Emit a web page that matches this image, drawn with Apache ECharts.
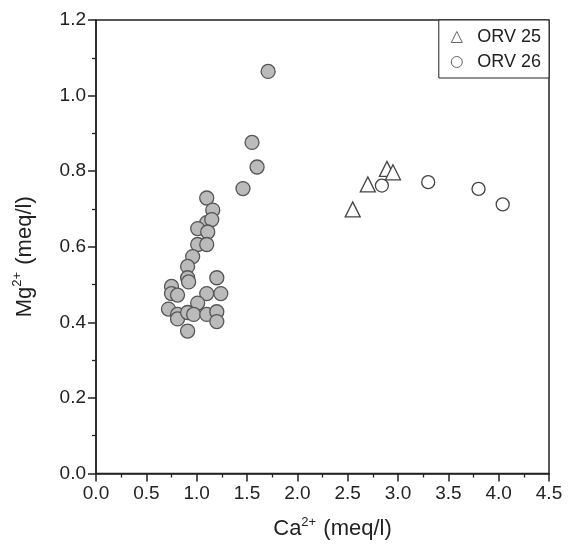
<!DOCTYPE html>
<html><head><meta charset="utf-8">
<script src="https://cdn.jsdelivr.net/npm/echarts@6/dist/echarts.min.js"></script>
<style>html,body{margin:0;padding:0;background:#fff}#c{width:570px;height:545px}</style>
</head><body><div id="c"></div>
<script>
// Grey (unlabelled) samples: [Ca, Mg]
const greyData = [
  [1.71,1.064],[1.55,0.876],[1.60,0.811],[1.46,0.754],[1.10,0.729],[1.16,0.697],
  [1.10,0.664],[1.15,0.672],[1.01,0.648],[1.11,0.639],[1.01,0.606],[1.10,0.606],
  [0.96,0.574],[0.91,0.548],[0.91,0.518],[0.92,0.507],[1.20,0.518],[0.75,0.495],
  [0.75,0.476],[0.81,0.472],[1.10,0.476],[1.24,0.476],[1.01,0.451],[0.72,0.435],
  [0.81,0.421],[0.81,0.409],[0.91,0.426],[0.97,0.421],[1.10,0.421],[1.20,0.428],
  [1.20,0.402],[0.91,0.377]
];
const orv25 = [[2.89,0.806],[2.95,0.797],[2.70,0.765],[2.55,0.699]];
const orv26 = [[2.84,0.762],[3.30,0.771],[3.80,0.753],[4.04,0.712]];
const seriesNames = ['ORV 25','ORV 26'];

const chart = echarts.init(document.getElementById('c'));
const font = 'Liberation Sans, Arial, sans-serif';
const supStyle = {fontSize:13,verticalAlign:'top',padding:[0,1,14,0],color:'#222',fontFamily:font};
const axisCommon = {
  axisLine:{show:true,lineStyle:{color:'#222',width:1.5}},
  axisTick:{show:true,length:8,lineStyle:{color:'#222',width:1.5}},
  minorTick:{show:true,splitNumber:2,length:4,lineStyle:{color:'#222',width:1.3}},
  splitLine:{show:false},
  axisLabel:{color:'#222',fontSize:19,fontFamily:font}
};
chart.setOption({
  animation:false,
  backgroundColor:'#fff',
  grid:{left:96,right:21,top:20,bottom:70,show:true,borderColor:'#222',borderWidth:1.5},
  xAxis:Object.assign({},axisCommon,{
    type:'value',min:0,max:4.5,interval:0.5,
    axisLabel:Object.assign({},axisCommon.axisLabel,{margin:11,formatter:v=>v.toFixed(1)}),
    name:'Ca{sup|2+} (meq/l)',nameLocation:'middle',nameGap:42,
    nameTextStyle:{color:'#222',fontSize:22,fontFamily:font,padding:[0,0,0,20],rich:{sup:supStyle}}
  }),
  yAxis:Object.assign({},axisCommon,{
    type:'value',min:0,max:1.2,interval:0.2,
    axisLabel:Object.assign({},axisCommon.axisLabel,{margin:10,formatter:v=>v.toFixed(1)}),
    name:'Mg{sup|2+} (meq/l)',nameLocation:'middle',nameGap:58,nameRotate:90,
    nameTextStyle:{color:'#222',fontSize:22,fontFamily:font,padding:[0,20,0,0],rich:{sup:supStyle}}
  }),
  legend:{
    data:seriesNames,orient:'vertical',right:21,top:20,
    borderColor:'#222',borderWidth:1,padding:[8,8,7,12],itemGap:7,
    itemWidth:11,itemHeight:11,
    itemStyle:{color:'#fff',borderColor:'#666',borderWidth:1},
    textStyle:{color:'#222',fontSize:18,fontFamily:font,padding:[0,0,0,10]},
    backgroundColor:'#fff'
  },
  series:[
    {type:'scatter',name:'grey',data:greyData,symbol:'circle',symbolSize:14,
     itemStyle:{color:'#bbbbbb',borderColor:'#555',borderWidth:1.3,opacity:1}},
    {type:'scatter',name:'ORV 25',data:orv25,symbol:'triangle',symbolSize:15,
     itemStyle:{color:'#fff',borderColor:'#444',borderWidth:1.3,opacity:1}},
    {type:'scatter',name:'ORV 26',data:orv26,symbol:'circle',symbolSize:13,
     itemStyle:{color:'#fff',borderColor:'#444',borderWidth:1.3,opacity:1}}
  ]
});
</script></body></html>
